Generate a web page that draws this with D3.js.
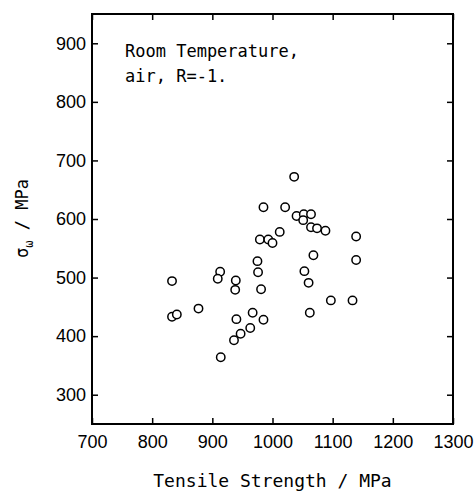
<!DOCTYPE html>
<html>
<head>
<meta charset="utf-8">
<script src="https://cdn.jsdelivr.net/npm/d3@7"></script>
<style>
  body { margin: 0; background: #fff; }
  .tick text { font-family: "Liberation Sans", Arial, sans-serif; font-size: 18px; fill: #000; }
  .tick line { stroke: #000; stroke-width: 1.5; }
  .mono { font-family: "DejaVu Sans Mono", "Liberation Mono", monospace; fill: #000; }
</style>
</head>
<body>
<div id="chart"></div>
<script>
// 인장강도 (MPa)
const tensile = [1036, 985, 1021, 1040, 1052, 1064, 1051, 1064, 1074, 1088,
  1012, 979, 993, 1000, 1139, 1068, 975, 1139, 976, 1053,
  913, 833, 909, 939, 1060, 938, 981, 1097, 1133, 877,
  833, 841, 940, 967, 985, 1062, 963, 947, 936, 914];
// 피로한도 σw (MPa)
const fatigue = [672, 620, 620, 605, 608, 608, 598, 586, 584, 580,
  578, 565, 565, 559, 570, 538, 528, 530, 509, 511,
  510, 494, 498, 495, 491, 479, 480, 461, 461, 447,
  433, 437, 429, 440, 428, 440, 414, 404, 393, 364];

const xTicks = [700, 800, 900, 1000, 1100, 1200, 1300];
const yTicks = [300, 400, 500, 600, 700, 800, 900];
const noteLines = ["Room Temperature,", "air, R=-1."];

const width = 475, height = 491;
const margin = { top: 14, right: 22, bottom: 67, left: 92 };
const w = width - margin.left - margin.right;
const h = height - margin.top - margin.bottom;

const svg = d3.select("#chart").append("svg")
  .attr("width", width)
  .attr("height", height);

const g = svg.append("g")
  .attr("transform", `translate(${margin.left},${margin.top})`);

const x = d3.scaleLinear().domain([700, 1300]).range([0, w]);
const y = d3.scaleLinear().domain([250, 950]).range([h, 0]);

// 축 (눈금은 안쪽)
g.append("g")
  .attr("transform", `translate(0,${h})`)
  .call(d3.axisBottom(x).tickValues(xTicks).tickSize(-6).tickPadding(11).tickFormat(d3.format("d")))
  .call(a => a.select(".domain").remove());

g.append("g")
  .call(d3.axisTop(x).tickValues(xTicks).tickSize(-6).tickFormat(""))
  .call(a => a.select(".domain").remove());

g.append("g")
  .call(d3.axisLeft(y).tickValues(yTicks).tickSize(-6).tickPadding(6).tickFormat(d3.format("d")))
  .call(a => a.select(".domain").remove());

g.append("g")
  .attr("transform", `translate(${w},0)`)
  .call(d3.axisRight(y).tickValues(yTicks).tickSize(-6).tickFormat(""))
  .call(a => a.select(".domain").remove());

// 테두리
g.append("rect")
  .attr("width", w)
  .attr("height", h)
  .attr("fill", "none")
  .attr("stroke", "#000")
  .attr("stroke-width", 2);

// 데이터 점
g.selectAll("circle.pt")
  .data(tensile.map((t, i) => ({ t: t, s: fatigue[i] })))
  .enter()
  .append("circle")
  .attr("class", "pt")
  .attr("cx", d => x(d.t))
  .attr("cy", d => y(d.s))
  .attr("r", 4.2)
  .attr("fill", "#fff")
  .attr("stroke", "#000")
  .attr("stroke-width", 1.5);

// 조건 메모
g.selectAll("text.note")
  .data(noteLines)
  .enter()
  .append("text")
  .attr("class", "note mono")
  .attr("x", 33)
  .attr("y", (d, i) => 43 + i * 25)
  .attr("font-size", "17px")
  .text(d => d);

// x축 제목
svg.append("text")
  .attr("class", "mono")
  .attr("x", margin.left + w / 2)
  .attr("y", 487)
  .attr("text-anchor", "middle")
  .attr("font-size", "18px")
  .text("Tensile Strength / MPa");

// y축 제목
const yt = svg.append("text")
  .attr("class", "mono")
  .attr("transform", "translate(28,258) rotate(-90)")
  .attr("font-size", "17px");
yt.append("tspan").text("σ");
yt.append("tspan").attr("dy", 5).attr("font-size", "12px").text("ω");
yt.append("tspan").attr("dy", -5).text("  / MPa");
</script>
</body>
</html>
